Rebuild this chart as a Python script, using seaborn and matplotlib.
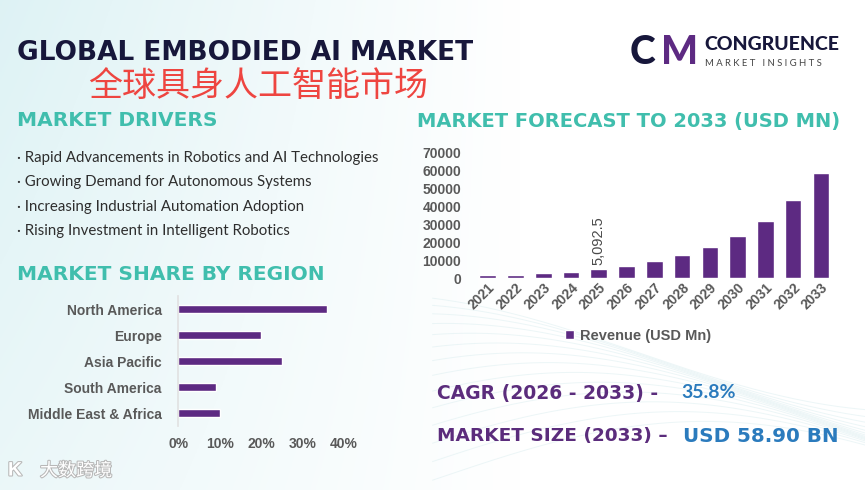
import numpy as np
import pandas as pd
import matplotlib
matplotlib.use('Agg')
import matplotlib.pyplot as plt
import matplotlib.patheffects as pe
import seaborn as sns

years = ['2021', '2022', '2023', '2024', '2025', '2026', '2027',
         '2028', '2029', '2030', '2031', '2032', '2033']
revenue = [1500, 1700, 2600, 3300, 5092.5, 6900, 9400,
           12700, 17300, 23500, 31900, 43400, 58900]
rev_ticks = [0, 10000, 20000, 30000, 40000, 50000, 60000, 70000]

regions = ['North America', 'Europe', 'Asia Pacific', 'South America', 'Middle East & Africa']
share = [36, 20, 25, 9, 10]
share_ticks = [0, 10, 20, 30, 40]

drivers = ['Rapid Advancements in Robotics and AI Technologies',
           'Growing Demand for Autonomous Systems',
           'Increasing Industrial Automation Adoption',
           'Rising Investment in Intelligent Robotics']

PURPLE = '#5d2a82'
TEAL = '#40bead'
NAVY = '#17173b'
GRAY = '#595959'
TXT_PURPLE = '#5b2c7c'
BLUE = '#2b7bbd'
HEAD = 'DejaVu Sans'

sns.set_theme(style='white')
plt.rcParams['font.family'] = ['Liberation Sans', 'Noto Sans CJK SC', 'DejaVu Sans']

W, H = 865, 490
fig = plt.figure(figsize=(8.65, 4.9), dpi=100)


def px(x, y):
    return x / W, 1 - y / H


# background: pale cyan on the left fading to white
bg = fig.add_axes([0, 0, 1, 1], zorder=-10)
gx = np.linspace(0, 1, 400)
gy = np.linspace(0, 1, 200)
X, Y = np.meshgrid(gx, gy)
t = np.clip(1 - X / 0.6, 0, 1) * (0.6 + 0.4 * Y)
img = np.dstack([1 - 0.13 * t, 1 - 0.05 * t, 1 - 0.04 * t])
bg.imshow(img, extent=[0, 1, 0, 1], aspect='auto', origin='lower')
# faint wave lines in the lower right
for k in range(14):
    xs = np.linspace(0.5, 1.0, 200)
    ys = 0.02 + k * 0.02 + 0.12 * np.sin((xs - 0.5) * 5 + k * 0.15)
    bg.plot(xs, ys, color='#e0f0f2', lw=0.7, alpha=0.6)
bg.set_xlim(0, 1)
bg.set_ylim(0, 1)
bg.axis('off')

# titles
fig.text(*px(17, 53), 'GLOBAL EMBODIED AI MARKET', fontsize=19, fontweight='bold',
         family=HEAD, color=NAVY, va='center')
fig.text(*px(88, 86), '全球具身人工智能市场', fontsize=24.5, color='#ee4540',
         family=['Noto Sans CJK SC'], va='center')
fig.text(*px(17, 121), 'MARKET DRIVERS', fontsize=14.5, fontweight='bold',
         family=HEAD, color=TEAL, va='center')
fig.text(*px(17, 274), 'MARKET SHARE BY REGION', fontsize=14.5, fontweight='bold',
         family=HEAD, color=TEAL, va='center')
fig.text(*px(417, 121), 'MARKET FORECAST TO 2033 (USD MN)', fontsize=14, fontweight='bold',
         family=HEAD, color=TEAL, va='center')

for i, d in enumerate(drivers):
    fig.text(*px(17, 158 + i * 24.4), '\u00b7 ' + d, fontsize=10.8, family='Lato',
             color='#2e2e2e', va='center')

# logo
fig.text(*px(630, 52), 'C', fontsize=28, fontweight='black', family='Lato', color=NAVY, va='center')
fig.text(*px(661, 52), 'M', fontsize=28, fontweight='black', family='Lato', color=PURPLE, va='center')
fig.text(*px(704, 45), 'CONGRUENCE', fontsize=14, fontweight='black', family='Lato',
         color=NAVY, va='center')
fig.text(*px(705, 64), 'M A R K E T   I N S I G H T S', fontsize=6.8, family='Lato',
         color='#444444', va='center')

# forecast bar chart
ax1 = fig.add_axes([473.8 / W, 1 - 278 / H, 361 / W, 125.3 / H])
sns.barplot(x=years, y=revenue, color=PURPLE, width=0.6, saturation=1,
            ax=ax1, label='Revenue (USD Mn)')
ax1.set_ylim(0, 70000)
ax1.set_yticks(rev_ticks)
ax1.set_yticklabels([str(v) for v in rev_ticks])
ax1.patch.set_alpha(0)
for s in ax1.spines.values():
    s.set_visible(False)
ax1.tick_params(axis='y', length=0, pad=9, labelsize=10, labelcolor=GRAY)
ax1.tick_params(axis='x', length=0, pad=2, labelsize=10, labelcolor=GRAY)
for lab in ax1.get_yticklabels():
    lab.set_fontweight('bold')
for lab in ax1.get_xticklabels():
    lab.set_fontweight('bold')
    lab.set_rotation(45)
    lab.set_ha('right')
    lab.set_rotation_mode('anchor')
ax1.set_xlabel('')
ax1.set_ylabel('')
i25 = years.index('2025')
ax1.annotate(f'{revenue[i25]:,.1f}', (i25, revenue[i25]), xytext=(0, 3),
             textcoords='offset points', rotation=90, ha='center', va='bottom',
             fontsize=10.5, color='#4a4a4a')
ax1.legend(loc='center', bbox_to_anchor=(0.455, -0.46), frameon=False,
           handlelength=0.6, handleheight=0.6, handletextpad=0.4,
           prop={'size': 10.5, 'weight': 'bold'}, labelcolor=GRAY)

# region share bar chart
ax2 = fig.add_axes([178.3 / W, 1 - 426 / H, 165.4 / W, 130 / H])
sns.barplot(x=share, y=regions, color=PURPLE, width=0.32, saturation=1,
            orient='h', ax=ax2)
ax2.set_xlim(0, 40)
ax2.set_xticks(share_ticks)
ax2.set_xticklabels([f'{v}%' for v in share_ticks])
ax2.patch.set_alpha(0)
for k, s in ax2.spines.items():
    s.set_visible(k == 'left')
ax2.spines['left'].set_color('#e2e2e2')
ax2.tick_params(axis='x', length=0, pad=8, labelsize=10, labelcolor=GRAY)
ax2.tick_params(axis='y', length=0, pad=12, labelsize=10, labelcolor=GRAY)
for lab in ax2.get_xticklabels() + ax2.get_yticklabels():
    lab.set_fontweight('bold')
ax2.set_xlabel('')
ax2.set_ylabel('')

# key figures
fig.text(*px(437, 393), 'CAGR (2026 - 2033) -', fontsize=13.5, fontweight='bold',
         family=HEAD, color=TXT_PURPLE, va='center')
fig.text(*px(681, 393), '35.8%', fontsize=14, fontweight='bold',
         family='Lato', color=BLUE, va='center')
fig.text(*px(437, 436), 'MARKET SIZE (2033) \u2013', fontsize=13.3, fontweight='bold',
         family=HEAD, color=TXT_PURPLE, va='center')
fig.text(*px(683, 436), 'USD 58.90 BN', fontsize=14.3, fontweight='bold',
         family=HEAD, color=BLUE, va='center')

# watermark
fig.text(*px(40, 471), '大数跨境', fontsize=13, color='white', family=['Noto Sans CJK SC'],
         va='center', path_effects=[pe.withStroke(linewidth=1.5, foreground='#b8b8b8')])
fig.text(*px(8, 471), 'K', fontsize=14, color='white', fontweight='bold',
         va='center', path_effects=[pe.withStroke(linewidth=1.5, foreground='#b8b8b8')])

fig.savefig('out.png', dpi=100)
